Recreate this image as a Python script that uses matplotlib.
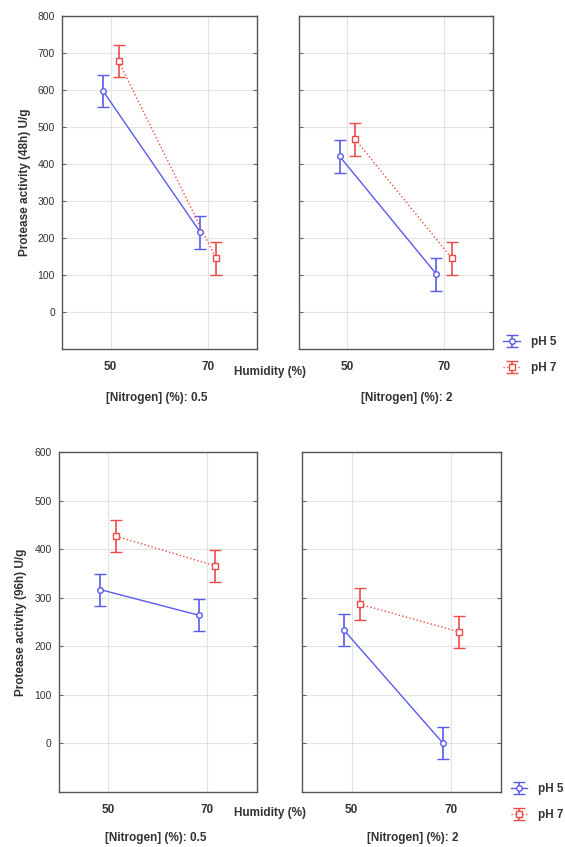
import matplotlib
matplotlib.use("Agg")
import matplotlib.pyplot as plt
import numpy as np

plt.rcParams['font.family'] = ['Liberation Sans', 'DejaVu Sans']

humidity = [50, 70]
nitrogen_levels = ["0.5", "2"]

# 48h activity, U/g
ph5_48h = {"0.5": [598, 215], "2": [421, 102]}
ph7_48h = {"0.5": [678, 145], "2": [467, 145]}
err_48h = 44

# 96h activity, U/g
ph5_96h = {"0.5": [317, 264], "2": [234, 0]}
ph7_96h = {"0.5": [427, 366], "2": [287, 230]}
err_96h = 33

blue = "#5a5aee"
red = "#ee4a4a"
txt = "#333333"

fig = plt.figure(figsize=(5.65, 8.47), dpi=100)

rows = [
    (0.588, 0.393, ph5_48h, ph7_48h, err_48h, (-100, 800), "Protease activity (48h) U/g",
     [(0.1097, 0.345), (0.529, 0.343)], 0.561, 0.530, (0.891, 0.581)),
    (0.065, 0.401, ph5_96h, ph7_96h, err_96h, (-100, 600), "Protease activity (96h) U/g",
     [(0.104, 0.350), (0.5345, 0.352)], 0.040, 0.011, (0.904, 0.053)),
]

for bottom, height, p5, p7, err, ylim, ylabel, cols, y_hum, y_nit, leg_pos in rows:
    for j, (left, width) in enumerate(cols):
        ax = fig.add_axes([left, bottom, width, height])
        n = nitrogen_levels[j]
        x5 = [h - 1.6 for h in humidity]
        x7 = [h + 1.6 for h in humidity]
        ax.errorbar(x5, p5[n], yerr=err, color=blue, lw=1.0, marker="o", ms=4,
                    mfc="white", mec=blue, mew=1.0, capsize=4, elinewidth=1.2,
                    capthick=1.2, label="pH 5")
        ax.errorbar(x7, p7[n], yerr=err, color=red, lw=1.0, ls=":", marker="s", ms=4,
                    mfc="white", mec=red, mew=1.0, capsize=4, elinewidth=1.2,
                    capthick=1.2, label="pH 7")
        ax.set_xlim(40, 80)
        ax.set_ylim(*ylim)
        ax.set_xticks(humidity)
        ax.set_yticks(np.arange(0, ylim[1] + 1, 100))
        ax.grid(True, color="#e3e3e3", lw=0.8)
        ax.set_axisbelow(True)
        for s in ax.spines.values():
            s.set_color("#555555")
            s.set_linewidth(1.0)
        ax.tick_params(axis="y", direction="in", length=3, left=True, right=True,
                       color="#666666", labelsize=7.5, labelcolor=txt, pad=5)
        ax.tick_params(axis="x", length=0, labelsize=8.5, labelcolor=txt, pad=9)
        for lab in ax.get_xticklabels():
            lab.set_fontweight("bold")
        if j == 0:
            ax.set_ylabel(ylabel, fontsize=8.5, fontweight="bold", color=txt, labelpad=5)
            fig.text(0.414, y_hum, "Humidity (%)", fontsize=8.5, fontweight="bold",
                     color=txt, ha="left", va="center")
            fig.text(left + width / 2 - 0.004, y_nit, "[Nitrogen] (%): " + n,
                     fontsize=8.5, fontweight="bold", color=txt, ha="center", va="center")
        else:
            ax.set_yticklabels([])
            handles, labels = ax.get_legend_handles_labels()
            leg = fig.legend(handles, labels, loc="center left", bbox_to_anchor=leg_pos,
                             frameon=False, prop={"weight": "bold", "size": 8.5},
                             handlelength=1.4, handletextpad=0.9, labelspacing=1.2,
                             borderaxespad=0, borderpad=0)
            for t in leg.get_texts():
                t.set_color(txt)
            fig.text(left + width / 2 + 0.02, y_nit, "[Nitrogen] (%): " + n,
                     fontsize=8.5, fontweight="bold", color=txt, ha="center", va="center")

fig.savefig("out.png", dpi=100)
